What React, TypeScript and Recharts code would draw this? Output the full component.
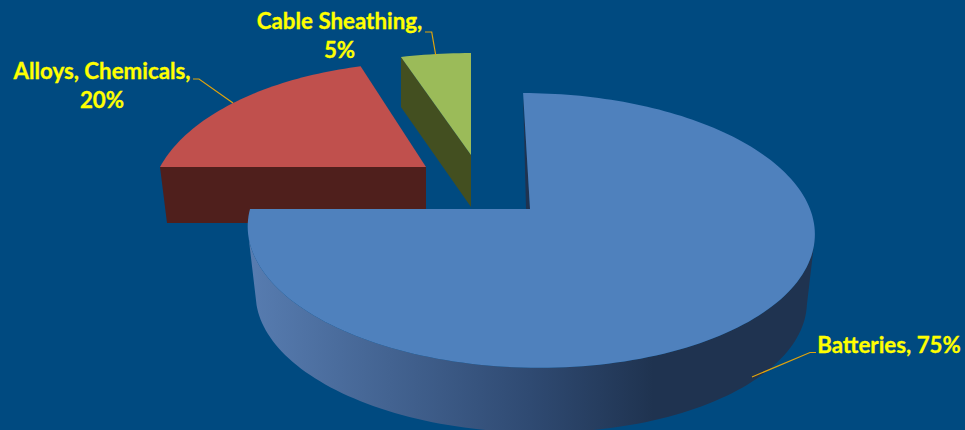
import React from "react";
import { PieChart, Pie } from "recharts";

const categories = ["Cable Sheathing", "Alloys, Chemicals", "Batteries"];
const shares = [5, 20, 75];
const chartData = categories.map((name, i) => ({ name, value: shares[i] }));

type Look = {
  ox: number; oy: number; rx: number; ry: number; k: number; skew: number;
  top: string; wall: string; depth: number;
  lines: string[]; textX: number; textY: number; leader: number[][];
};

const looks: Record<string, Look> = {
  Batteries: {
    ox: 0, oy: 0, rx: 280, ry: 134, k: 0.156, skew: -8, top: "#4f81bd", wall: "url(#blueWall)", depth: 68,
    lines: ["Batteries, 75%"], textX: 889, textY: 353,
    leader: [[752, 377], [810, 352.5], [816, 352.5]],
  },
  "Alloys, Chemicals": {
    ox: -104, oy: -42, rx: 266, ry: 133, k: 0.27, skew: 0, top: "#c0504d", wall: "#4f1f1c", depth: 56,
    lines: ["Alloys, Chemicals,", "20%"], textX: 102, textY: 79,
    leader: [[233, 103], [199, 79], [193, 79]],
  },
  "Cable Sheathing": {
    ox: -59, oy: -54, rx: 285, ry: 129.5, k: 0.27, skew: 0, top: "#9bbb59", wall: "#434f20", depth: 52,
    lines: ["Cable Sheathing,", "5%"], textX: 339.5, textY: 29,
    leader: [[435.7, 55], [431.7, 32], [425, 32]],
  },
};

const project = (cx: number, cy: number, l: Look, deg: number, scaleX = 1, scaleY = 1) => {
  const t = (deg * Math.PI) / 180;
  const u = Math.cos(t);
  const v = Math.sin(t);
  const w = 1 + l.k * v;
  return [cx + (l.rx * scaleX * u + l.skew * v) / w, cy - (l.ry * scaleY * v) / w];
};

const arc = (from: number, to: number, fn: (d: number) => number[]) => {
  const pts: number[][] = [];
  const n = Math.max(8, Math.ceil(Math.abs(to - from) / 1.5));
  for (let i = 0; i <= n; i++) pts.push(fn(from + ((to - from) * i) / n));
  return pts;
};

const toPath = (pts: number[][]) =>
  pts.map((p, i) => `${i ? "L" : "M"}${p[0].toFixed(2)} ${p[1].toFixed(2)}`).join(" ") + " Z";

const SliceShape = (props: any) => {
  const { cx, cy, startAngle, endAngle, payload } = props;
  const l = looks[payload.name];
  const ax = cx + l.ox;
  const ay = cy + l.oy;
  const rim = arc(startAngle, endAngle, (d) => project(ax, ay, l, d));
  const topPath = toPath([[ax, ay], ...rim]);
  let wallPaths: string[] = [];
  if (l.ox === 0) {
    const upper = arc(192, 348, (d) => project(ax, ay, l, d));
    const lower = arc(348, 192, (d) => project(ax, ay + l.depth, l, d, 0.972, 0.98));
    wallPaths = [toPath([...upper, ...lower])];
    const inner = project(ax, ay, l, endAngle);
    wallPaths.push(toPath([inner, [ax, ay], [ax - 4, ay]]));
    return (
      <g>
        <path d={wallPaths[0]} fill={l.wall} />
        <path d={wallPaths[1]} fill="#1f3350" />
        <path d={topPath} fill={l.top} />
      </g>
    );
  }
  if (startAngle === 90 || endAngle === 90) {
    const edge = project(ax, ay, l, 108);
    wallPaths = [toPath([edge, [ax, ay], [ax, ay + l.depth], [edge[0], edge[1] + 50]])];
  } else {
    const edge = project(ax, ay, l, 180);
    wallPaths = [toPath([edge, [ax, ay], [ax, ay + l.depth], [edge[0] + 7, ay + l.depth]])];
  }
  return (
    <g>
      <path d={wallPaths[0]} fill={l.wall} />
      <path d={topPath} fill={l.top} />
    </g>
  );
};

const SliceLabel = (props: any) => {
  const l = looks[props.name ?? props.payload?.name];
  return (
    <g>
      <polyline
        points={l.leader.map((p) => p.join(",")).join(" ")}
        fill="none"
        stroke="#e0a30c"
        strokeWidth={1.2}
      />
      {l.lines.map((t, i) => (
        <text
          key={t}
          x={l.textX}
          y={l.textY + i * 29}
          textAnchor="middle"
          fill="#ffff00"
          stroke="#ffff00"
          strokeWidth={0.3}
          fontFamily="Lato, sans-serif"
          fontWeight={700}
          fontSize={22.3}
        >
          {t}
        </text>
      ))}
    </g>
  );
};

export default function App() {
  return (
    <div style={{ position: "absolute", left: 0, top: 0, width: 965, height: 430, overflow: "hidden", background: "#004a80" }}>
      <PieChart width={965} height={430} margin={{ top: 0, right: 0, bottom: 0, left: 0 }}>
        <defs>
          <linearGradient id="blueWall" gradientUnits="userSpaceOnUse" x1="250" y1="0" x2="810" y2="0">
            <stop offset="0" stopColor="#577cb0" />
            <stop offset="0.5" stopColor="#2f4a72" />
            <stop offset="0.72" stopColor="#1f3350" />
            <stop offset="1" stopColor="#1f3350" />
          </linearGradient>
        </defs>
        <Pie
          data={chartData}
          dataKey="value"
          nameKey="name"
          cx={530}
          cy={209}
          innerRadius={0}
          outerRadius={280}
          startAngle={90}
          endAngle={450}
          stroke="none"
          isAnimationActive={false}
          shape={SliceShape}
          label={SliceLabel}
          labelLine={false}
        />
      </PieChart>
    </div>
  );
}
